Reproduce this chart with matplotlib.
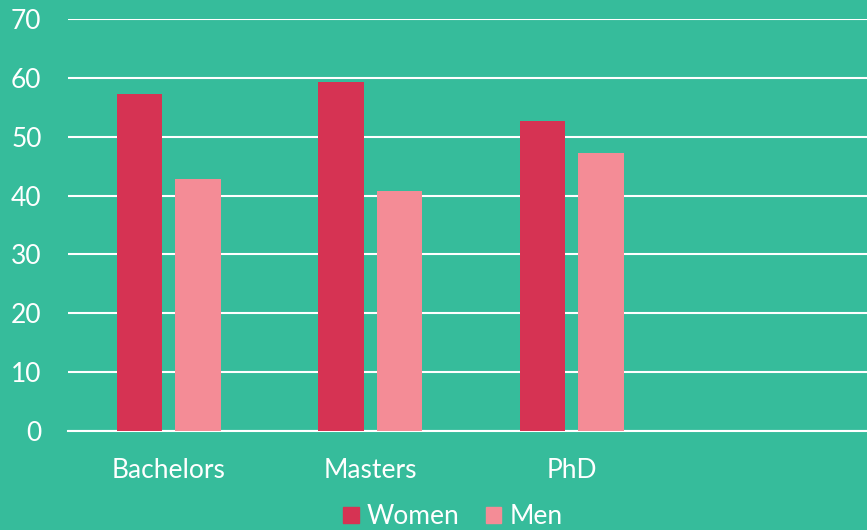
import numpy as np
import matplotlib.pyplot as plt
from matplotlib.patches import Patch

categories = ['Bachelors', 'Masters', 'PhD']
women = [57.2, 59.2, 52.7]
men = [42.8, 40.8, 47.3]
yticks = [0, 10, 20, 30, 40, 50, 60, 70]

bg = '#36BC9B'
c_women = '#D63353'
c_men = '#F48C96'

plt.rcParams['font.family'] = ['Lato', 'DejaVu Sans']

fig = plt.figure(figsize=(8.67, 5.30), dpi=100, facecolor=bg)
ax = fig.add_axes([0.0784, 0.1862, 0.93, 0.7785], facecolor=bg)

x = np.arange(len(categories))
w = 0.225
ax.bar(x - 0.145, women, w, color=c_women, zorder=3, label='Women')
ax.bar(x + 0.145, men, w, color=c_men, zorder=3, label='Men')

ax.set_xlim(-0.5, 3.5)
ax.set_ylim(0, 70)
ax.set_yticks(yticks)
ax.set_xticks(x)
ax.set_xticklabels(categories)
ax.yaxis.grid(True, color='white', linewidth=1.5, zorder=0)
ax.set_axisbelow(True)
for s in ['top', 'right', 'left']:
    ax.spines[s].set_visible(False)
ax.spines['bottom'].set_color('white')
ax.spines['bottom'].set_linewidth(1.5)
ax.tick_params(axis='both', length=0, colors='white', labelsize=19)
ax.tick_params(axis='y', pad=19)
ax.tick_params(axis='x', pad=19)

handles = [Patch(color=c_women, label='Women'), Patch(color=c_men, label='Men')]
fig.legend(handles=handles, loc='center', bbox_to_anchor=(0.522, 0.025), ncol=2,
           frameon=False, fontsize=19, labelcolor='white', handlelength=0.6,
           handleheight=0.6, handletextpad=0.3, columnspacing=1.0)

fig.savefig('out.png', dpi=100, facecolor=bg)
plt.close()
